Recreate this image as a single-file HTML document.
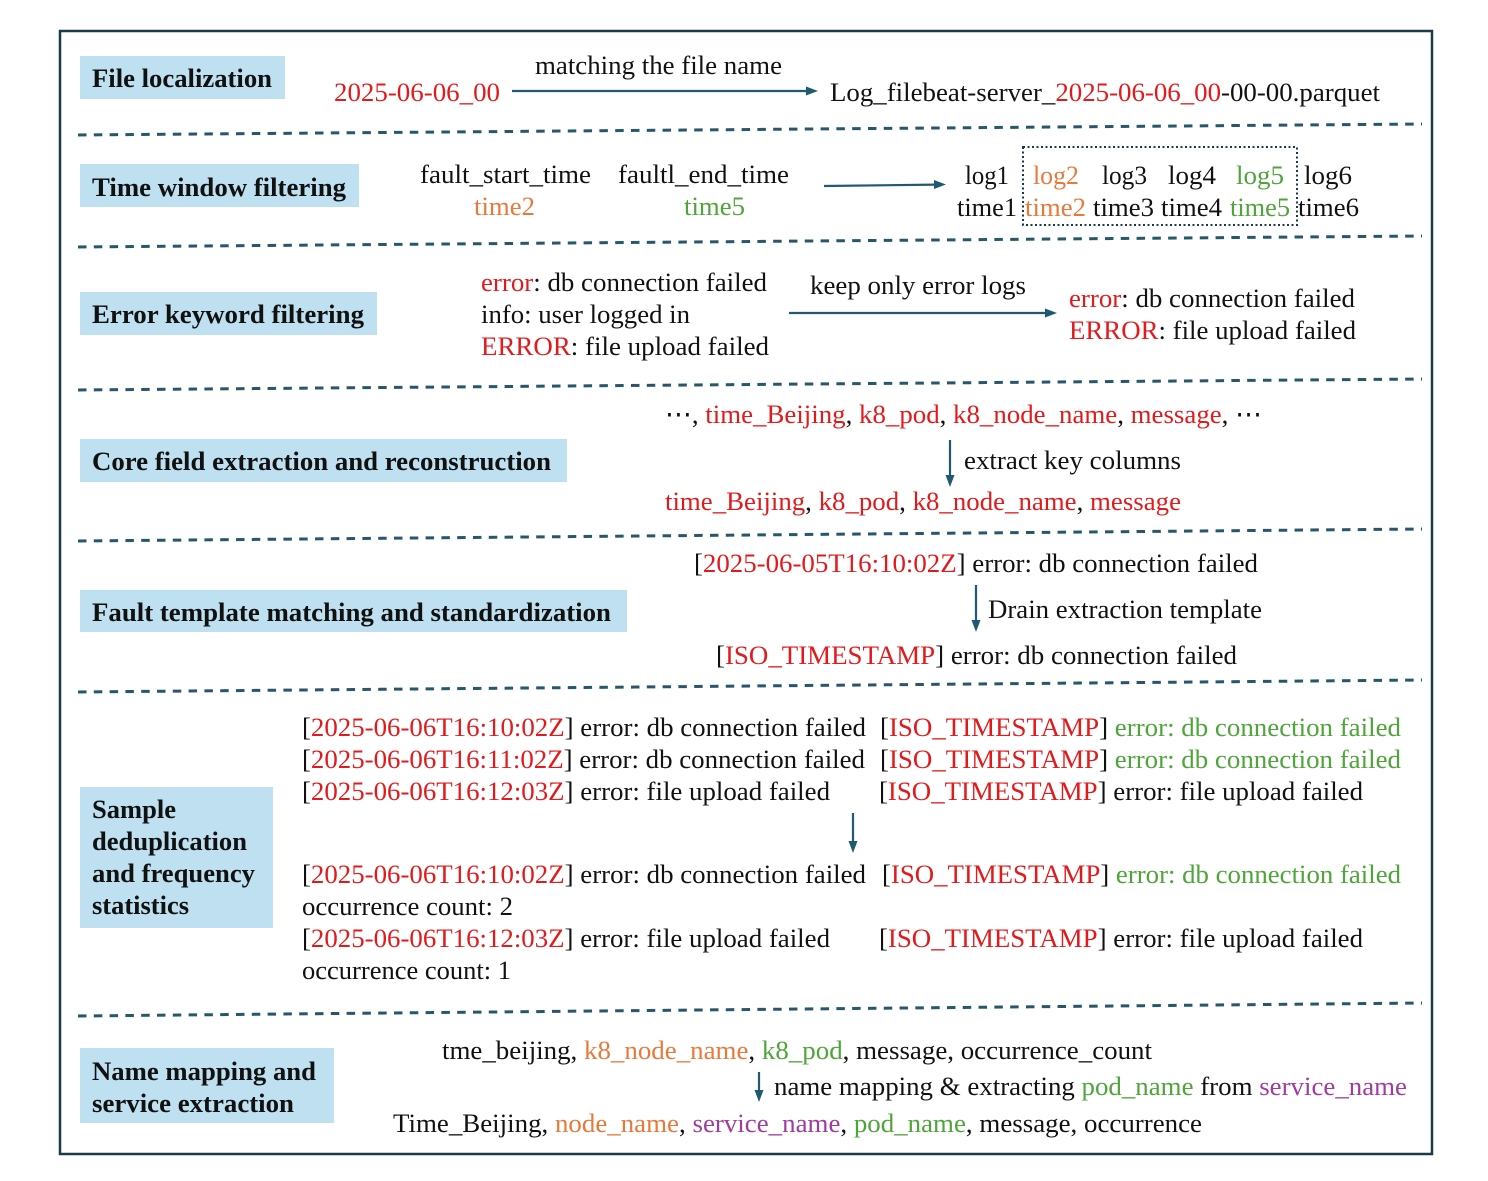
<!DOCTYPE html>
<html>
<head>
<meta charset="utf-8">
<style>
html,body{margin:0;padding:0;background:#fff;}
svg{display:block;}
text{font-family:"Liberation Serif","DejaVu Serif",serif;font-size:26.5px;fill:#111;white-space:pre;}
.b{font-weight:bold;}
.r{fill:#e31a1c;}
.o{fill:#e8793a;}
.g{fill:#4ea53a;}
.p{fill:#a03ca0;}
.box{fill:#bee0f1;}
.dash{stroke:#27586a;stroke-width:3;stroke-dasharray:8.5 7.3;fill:none;}
.ar{stroke:#1f5a72;stroke-width:2.2;fill:none;}
.ah{fill:#1f5a72;}
</style>
</head>
<body>
<svg width="1488" height="1181" viewBox="0 0 1488 1181" xmlns="http://www.w3.org/2000/svg">
<rect x="0" y="0" width="1488" height="1181" fill="#fff"/>
<!-- outer border -->
<rect x="60" y="31" width="1372" height="1123" fill="none" stroke="#1b3a48" stroke-width="2.5"/>

<!-- dashed separators -->
<line class="dash" x1="78" y1="135" x2="1422" y2="124"/>
<line class="dash" x1="78" y1="247" x2="1422" y2="236"/>
<line class="dash" x1="78" y1="390" x2="1422" y2="379"/>
<line class="dash" x1="78" y1="541" x2="1422" y2="529"/>
<line class="dash" x1="78" y1="692" x2="1422" y2="680"/>
<line class="dash" x1="78" y1="1016" x2="1422" y2="1003"/>

<!-- Section 1 -->
<rect class="box" x="80" y="56" width="205" height="43"/>
<text class="b" x="92" y="87" textLength="180" lengthAdjust="spacingAndGlyphs">File localization</text>
<text x="535" y="74" textLength="247" lengthAdjust="spacingAndGlyphs">matching the file name</text>
<text class="r" x="334" y="101" textLength="166" lengthAdjust="spacingAndGlyphs">2025-06-06_00</text>
<line class="ar" x1="512" y1="91" x2="808" y2="91"/>
<polygon class="ah" points="818,91 806,86.5 806,95.5"/>
<text x="830" y="101" textLength="550" lengthAdjust="spacingAndGlyphs">Log_filebeat-server_<tspan class="r">2025-06-06_00</tspan>-00-00.parquet</text>

<!-- Section 2 -->
<rect class="box" x="80" y="164" width="279" height="43"/>
<text class="b" x="92" y="196" textLength="254" lengthAdjust="spacingAndGlyphs">Time window filtering</text>
<text x="420" y="183" textLength="171" lengthAdjust="spacingAndGlyphs">fault_start_time</text>
<text x="618" y="183" textLength="171" lengthAdjust="spacingAndGlyphs">faultl_end_time</text>
<text class="o" x="474" y="215" textLength="61" lengthAdjust="spacingAndGlyphs">time2</text>
<text class="g" x="684" y="215" textLength="61" lengthAdjust="spacingAndGlyphs">time5</text>
<line class="ar" x1="824" y1="186" x2="936" y2="184.6"/>
<polygon class="ah" points="946,184.5 934,180 934,189"/>
<text x="965" y="184" textLength="44" lengthAdjust="spacingAndGlyphs">log1</text>
<text class="o" x="1033" y="184" textLength="46" lengthAdjust="spacingAndGlyphs">log2</text>
<text x="1102" y="184" textLength="45" lengthAdjust="spacingAndGlyphs">log3</text>
<text x="1168" y="184" textLength="48" lengthAdjust="spacingAndGlyphs">log4</text>
<text class="g" x="1236" y="184" textLength="48" lengthAdjust="spacingAndGlyphs">log5</text>
<text x="1304" y="184" textLength="48" lengthAdjust="spacingAndGlyphs">log6</text>
<text x="957" y="216" textLength="60" lengthAdjust="spacingAndGlyphs">time1</text>
<text class="o" x="1025" y="216" textLength="61" lengthAdjust="spacingAndGlyphs">time2</text>
<text x="1093" y="216" textLength="61" lengthAdjust="spacingAndGlyphs">time3</text>
<text x="1161" y="216" textLength="61" lengthAdjust="spacingAndGlyphs">time4</text>
<text class="g" x="1230" y="216" textLength="60" lengthAdjust="spacingAndGlyphs">time5</text>
<text x="1298" y="216" textLength="61" lengthAdjust="spacingAndGlyphs">time6</text>
<rect x="1023" y="147" width="274" height="78" fill="none" stroke="#1b3a48" stroke-width="2" stroke-dasharray="2 2.5"/>

<!-- Section 3 -->
<rect class="box" x="80" y="292" width="297" height="43"/>
<text class="b" x="92" y="323" textLength="272" lengthAdjust="spacingAndGlyphs">Error keyword filtering</text>
<text x="481" y="291" textLength="286" lengthAdjust="spacingAndGlyphs"><tspan class="r">error</tspan>: db connection failed</text>
<text x="481" y="323" textLength="209" lengthAdjust="spacingAndGlyphs">info: user logged in</text>
<text x="481" y="355" textLength="288" lengthAdjust="spacingAndGlyphs"><tspan class="r">ERROR</tspan>: file upload failed</text>
<text x="810" y="294" textLength="216" lengthAdjust="spacingAndGlyphs">keep only error logs</text>
<line class="ar" x1="789" y1="313" x2="1047" y2="313"/>
<polygon class="ah" points="1057,313 1045,308.5 1045,317.5"/>
<text x="1069" y="307" textLength="286" lengthAdjust="spacingAndGlyphs"><tspan class="r">error</tspan>: db connection failed</text>
<text x="1069" y="339" textLength="287" lengthAdjust="spacingAndGlyphs"><tspan class="r">ERROR</tspan>: file upload failed</text>

<!-- Section 4 -->
<rect class="box" x="80" y="439" width="487" height="43"/>
<text class="b" x="92" y="470" textLength="459" lengthAdjust="spacingAndGlyphs">Core field extraction and reconstruction</text>
<text x="665" y="423" textLength="597" lengthAdjust="spacingAndGlyphs">⋯, <tspan class="r">time_Beijing</tspan>, <tspan class="r">k8_pod</tspan>, <tspan class="r">k8_node_name</tspan>, <tspan class="r">message</tspan>, ⋯</text>
<line class="ar" x1="950" y1="440" x2="950" y2="477"/>
<polygon class="ah" points="950,487 945.5,475 954.5,475"/>
<text x="964" y="469" textLength="217" lengthAdjust="spacingAndGlyphs">extract key columns</text>
<text x="665" y="510" textLength="516" lengthAdjust="spacingAndGlyphs"><tspan class="r">time_Beijing</tspan>, <tspan class="r">k8_pod</tspan>, <tspan class="r">k8_node_name</tspan>, <tspan class="r">message</tspan></text>

<!-- Section 5 -->
<rect class="box" x="80" y="590" width="547" height="42"/>
<text class="b" x="92" y="621" textLength="519" lengthAdjust="spacingAndGlyphs">Fault template matching and standardization</text>
<text x="694" y="572" textLength="564" lengthAdjust="spacingAndGlyphs">[<tspan class="r">2025-06-05T16:10:02Z</tspan>] error: db connection failed</text>
<line class="ar" x1="976" y1="585" x2="976" y2="622"/>
<polygon class="ah" points="976,632 971.5,620 980.5,620"/>
<text x="988" y="618" textLength="274" lengthAdjust="spacingAndGlyphs">Drain extraction template</text>
<text x="716" y="664" textLength="521" lengthAdjust="spacingAndGlyphs">[<tspan class="r">ISO_TIMESTAMP</tspan>] error: db connection failed</text>

<!-- Section 6 -->
<rect class="box" x="80" y="787" width="193" height="141"/>
<text class="b" x="92" y="818" textLength="84" lengthAdjust="spacingAndGlyphs">Sample</text>
<text class="b" x="92" y="850" textLength="155" lengthAdjust="spacingAndGlyphs">deduplication</text>
<text class="b" x="92" y="882" textLength="163" lengthAdjust="spacingAndGlyphs">and frequency</text>
<text class="b" x="92" y="914" textLength="97" lengthAdjust="spacingAndGlyphs">statistics</text>

<text x="302" y="736" textLength="564" lengthAdjust="spacingAndGlyphs">[<tspan class="r">2025-06-06T16:10:02Z</tspan>] error: db connection failed</text>
<text x="302" y="768" textLength="563" lengthAdjust="spacingAndGlyphs">[<tspan class="r">2025-06-06T16:11:02Z</tspan>] error: db connection failed</text>
<text x="302" y="800" textLength="528" lengthAdjust="spacingAndGlyphs">[<tspan class="r">2025-06-06T16:12:03Z</tspan>] error: file upload failed</text>
<text x="880" y="736" textLength="521" lengthAdjust="spacingAndGlyphs">[<tspan class="r">ISO_TIMESTAMP</tspan>] <tspan class="g">error: db connection failed</tspan></text>
<text x="880" y="768" textLength="521" lengthAdjust="spacingAndGlyphs">[<tspan class="r">ISO_TIMESTAMP</tspan>] <tspan class="g">error: db connection failed</tspan></text>
<text x="879" y="800" textLength="484" lengthAdjust="spacingAndGlyphs">[<tspan class="r">ISO_TIMESTAMP</tspan>] error: file upload failed</text>
<line class="ar" x1="853" y1="813" x2="853" y2="843"/>
<polygon class="ah" points="853,853 848.5,841 857.5,841"/>
<text x="302" y="883" textLength="564" lengthAdjust="spacingAndGlyphs">[<tspan class="r">2025-06-06T16:10:02Z</tspan>] error: db connection failed</text>
<text x="882" y="883" textLength="519" lengthAdjust="spacingAndGlyphs">[<tspan class="r">ISO_TIMESTAMP</tspan>] <tspan class="g">error: db connection failed</tspan></text>
<text x="302" y="915" textLength="211" lengthAdjust="spacingAndGlyphs">occurrence count: 2</text>
<text x="302" y="947" textLength="528" lengthAdjust="spacingAndGlyphs">[<tspan class="r">2025-06-06T16:12:03Z</tspan>] error: file upload failed</text>
<text x="879" y="947" textLength="484" lengthAdjust="spacingAndGlyphs">[<tspan class="r">ISO_TIMESTAMP</tspan>] error: file upload failed</text>
<text x="302" y="979" textLength="209" lengthAdjust="spacingAndGlyphs">occurrence count: 1</text>

<!-- Section 7 -->
<rect class="box" x="80" y="1048" width="254" height="75"/>
<text class="b" x="92" y="1080" textLength="224" lengthAdjust="spacingAndGlyphs">Name mapping and</text>
<text class="b" x="92" y="1112" textLength="202" lengthAdjust="spacingAndGlyphs">service extraction</text>
<text x="442" y="1059" textLength="710" lengthAdjust="spacingAndGlyphs">tme_beijing, <tspan class="o">k8_node_name</tspan>, <tspan class="g">k8_pod</tspan>, message, occurrence_count</text>
<line class="ar" x1="759" y1="1072" x2="759" y2="1092"/>
<polygon class="ah" points="759,1102 754.5,1090 763.5,1090"/>
<text x="774" y="1095" textLength="633" lengthAdjust="spacingAndGlyphs">name mapping &amp; extracting <tspan class="g">pod_name</tspan> from <tspan class="p">service_name</tspan></text>
<text x="393" y="1132" textLength="809" lengthAdjust="spacingAndGlyphs">Time_Beijing, <tspan class="o">node_name</tspan>, <tspan class="p">service_name</tspan>, <tspan class="g">pod_name</tspan>, message, occurrence</text>
</svg>
</body>
</html>
